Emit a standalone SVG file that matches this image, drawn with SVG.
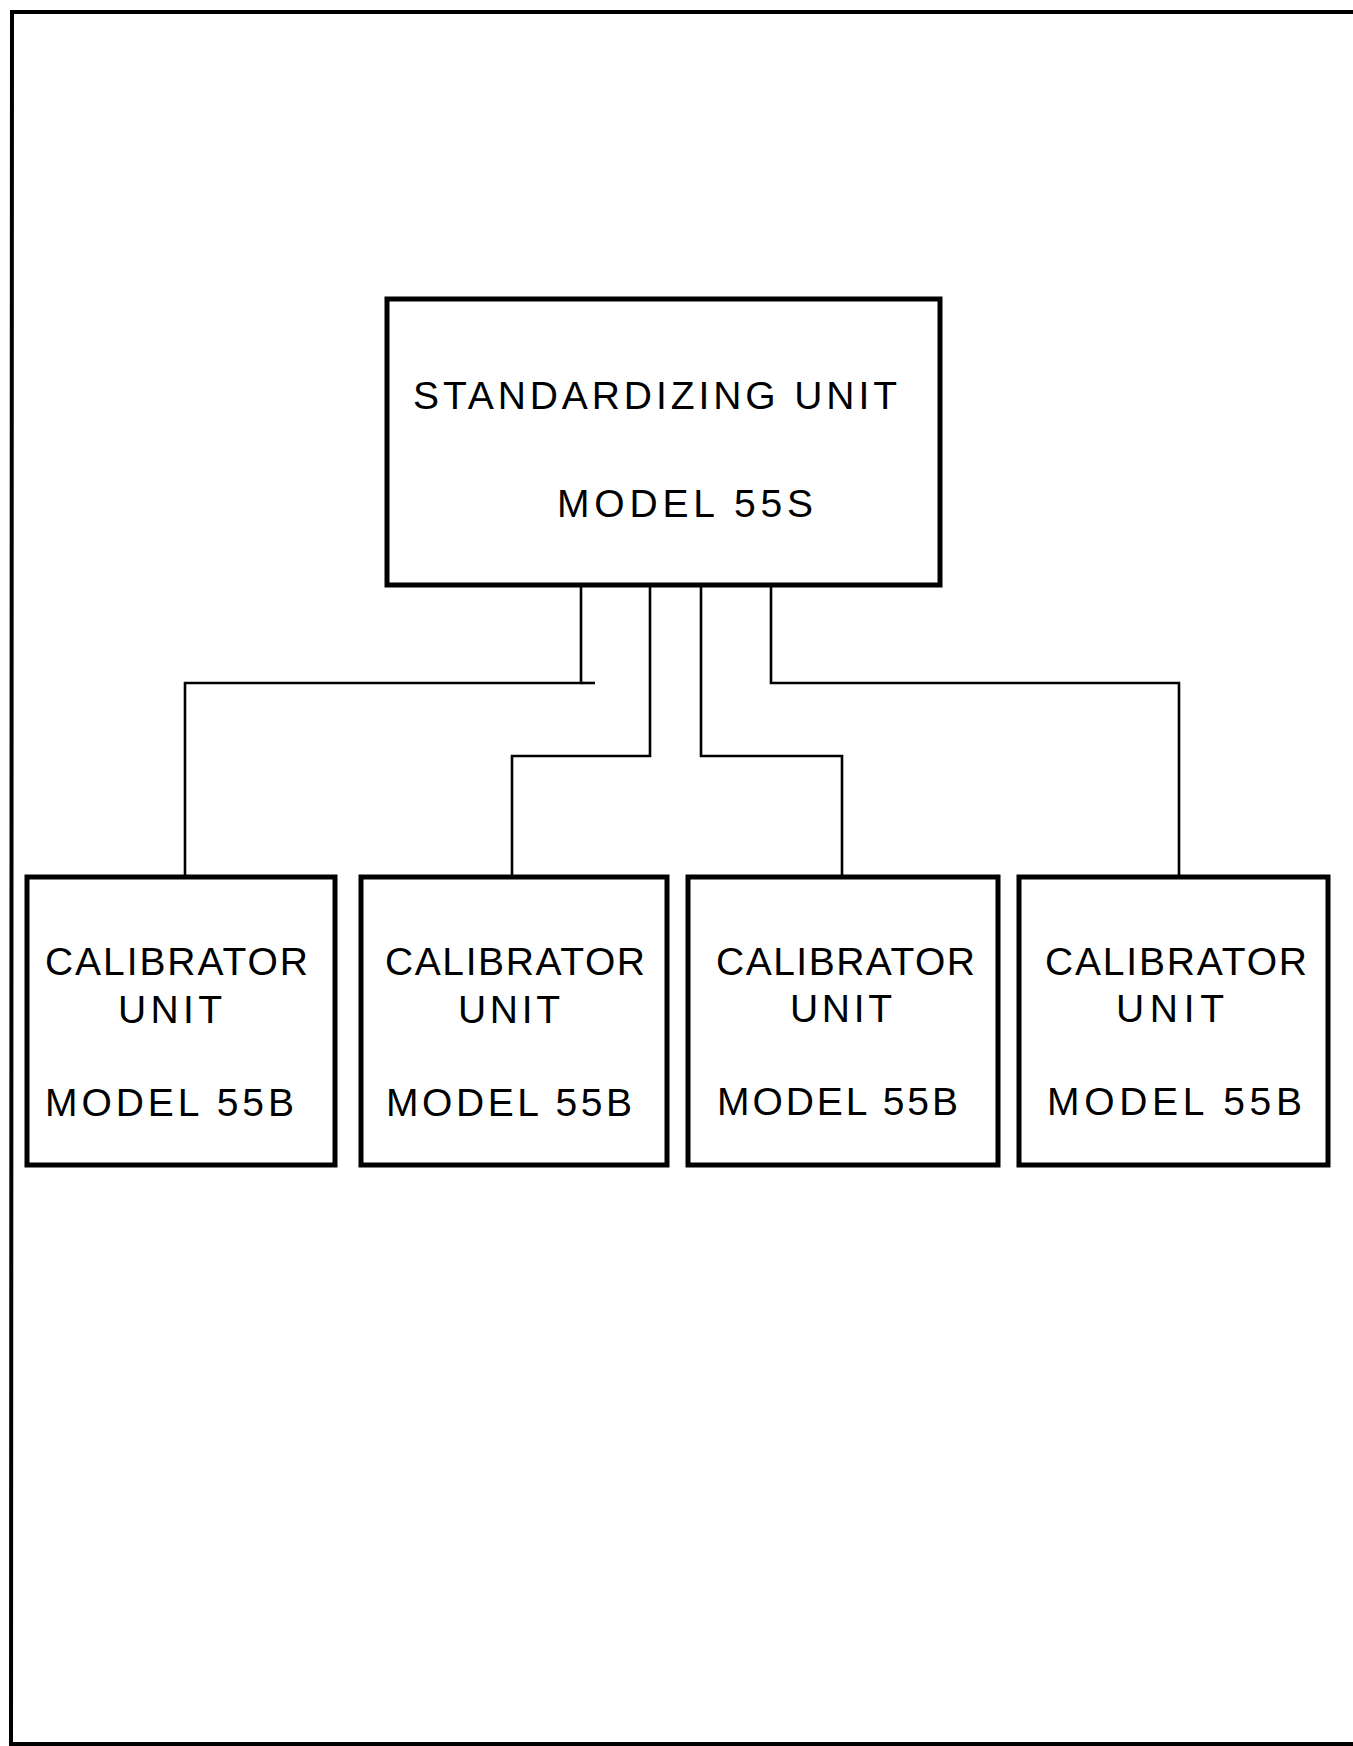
<svg xmlns="http://www.w3.org/2000/svg" width="1353" height="1746" viewBox="0 0 1353 1746">
<style>
.frame{fill:none;stroke:#000;stroke-width:4}
.box{fill:#fff;stroke:#000;stroke-width:5}
.conn{fill:none;stroke:#000;stroke-width:2.6}
.t{font-family:"Liberation Sans","DejaVu Sans",sans-serif;font-size:39px;fill:#000}
</style>
<rect width="1353" height="1746" fill="#fff"/>
<path class="frame" d="M1353 12 L12 12 L11 1744 L1353 1744"/>
<g id="connectors">
<path class="conn" d="M581 585 V683 H185 V877"/>
<path class="conn" d="M581 683 H595"/>
<path class="conn" d="M650 585 V756 H512 V877"/>
<path class="conn" d="M701 585 V756 H842 V877"/>
<path class="conn" d="M771 585 V683 H1179 V877"/>
</g>
<g id="standardizing">
<rect class="box" x="387" y="299" width="553" height="286"/>
<text class="t" x="413" y="409" textLength="484" lengthAdjust="spacing">STANDARDIZING UNIT</text>
<text class="t" x="557" y="517" textLength="256" lengthAdjust="spacing">MODEL 55S</text>
</g>
<g id="cal1">
<rect class="box" x="27" y="877" width="308" height="288"/>
<text class="t" x="45" y="975" textLength="263" lengthAdjust="spacing">CALIBRATOR</text>
<text class="t" x="118" y="1023" textLength="104" lengthAdjust="spacing">UNIT</text>
<text class="t" x="45" y="1116" textLength="249" lengthAdjust="spacing">MODEL 55B</text>
</g>
<g id="cal2">
<rect class="box" x="361" y="877" width="306" height="288"/>
<text class="t" x="385" y="975" textLength="260" lengthAdjust="spacing">CALIBRATOR</text>
<text class="t" x="458" y="1023" textLength="102" lengthAdjust="spacing">UNIT</text>
<text class="t" x="386" y="1116" textLength="246" lengthAdjust="spacing">MODEL 55B</text>
</g>
<g id="cal3">
<rect class="box" x="688" y="877" width="310" height="288"/>
<text class="t" x="716" y="975" textLength="259" lengthAdjust="spacing">CALIBRATOR</text>
<text class="t" x="790" y="1022" textLength="102" lengthAdjust="spacing">UNIT</text>
<text class="t" x="717" y="1115" textLength="241" lengthAdjust="spacing">MODEL 55B</text>
</g>
<g id="cal4">
<rect class="box" x="1019" y="877" width="309" height="288"/>
<text class="t" x="1045" y="975" textLength="262" lengthAdjust="spacing">CALIBRATOR</text>
<text class="t" x="1116" y="1022" textLength="108" lengthAdjust="spacing">UNIT</text>
<text class="t" x="1047" y="1115" textLength="255" lengthAdjust="spacing">MODEL 55B</text>
</g>
</svg>
